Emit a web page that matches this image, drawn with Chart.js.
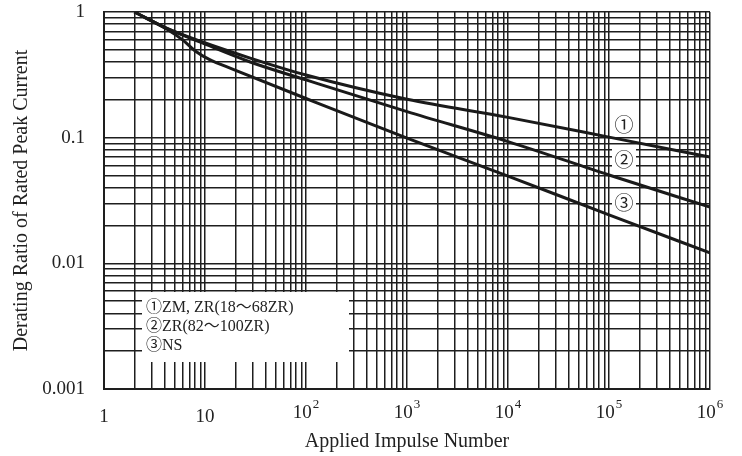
<!DOCTYPE html>
<html>
<head>
<meta charset="utf-8">
<script src="https://cdn.jsdelivr.net/npm/chart.js@4/dist/chart.umd.min.js"></script>
<style>
  html, body { margin: 0; padding: 0; background: #fff; }
  #wrap { width: 742px; height: 456px; }
</style>
</head>
<body>
<div id="wrap"><canvas id="chart" width="742" height="456"></canvas></div>
<script>
// impulse counts
const impulses = [2, 4.2, 9, 28, 100, 1e3, 1e4, 1e5, 1e6];
const zmRatio = [1, 0.74, 0.585, 0.43, 0.315, 0.202, 0.145, 0.101, 0.070];
const zrRatio = [1, 0.74, 0.575, 0.40, 0.288, 0.161, 0.093, 0.0505, 0.028];
const nsImpulses = [2, 4.2, 6, 8, 11, 19, 100, 1e3, 1e4, 1e5, 1e6];
const nsRatio = [1, 0.73, 0.6, 0.49, 0.42, 0.35, 0.205, 0.099, 0.0495, 0.0243, 0.0121];

const xDecades = [1, 10, 100, 1e3, 1e4, 1e5, 1e6];
const xTickLabels = [["1", ""], ["10", ""], ["10", "2"], ["10", "3"], ["10", "4"], ["10", "5"], ["10", "6"]];
const yDecades = [0.001, 0.01, 0.1, 1];
const yTickLabels = ["0.001", "0.01", "0.1", "1"];

const legendLines = ["①ZM, ZR(18〜68ZR)", "②ZR(82〜100ZR)", "③NS"];
const curveMarks = ["①", "②", "③"];

const SERIF = '"Liberation Serif", "Times New Roman", "Noto Sans CJK JP", serif';

function minorTicks(decades) {
  const out = [];
  for (let i = 0; i < decades.length - 1; i++) {
    for (let k = 1; k < 10; k++) out.push({ value: decades[i] * k });
  }
  out.push({ value: decades[decades.length - 1] });
  return out;
}

function toPoints(xs, ys) {
  return xs.map((x, i) => ({ x: x, y: ys[i] }));
}

const overlay = {
  id: "overlay",
  beforeDatasetsDraw(chart) {
    const ctx = chart.ctx;
    ctx.save();
    ctx.fillStyle = "#fff";
    // legend box covers the grid
    ctx.fillRect(142, 292, 207, 70);
    // white patches behind curve marks
    ctx.fillRect(612, 114, 24, 22);
    ctx.fillRect(612, 149, 24, 22);
    ctx.fillRect(612, 192, 24, 22);
    ctx.restore();
  },
  afterDraw(chart) {
    const ctx = chart.ctx;
    const xs = chart.scales.x;
    ctx.save();
    ctx.fillStyle = "#222";
    // x tick labels with superscripts
    xDecades.forEach((v, i) => {
      const px = xs.getPixelForValue(v);
      const base = xTickLabels[i][0], exp = xTickLabels[i][1];
      ctx.font = "19px " + SERIF;
      const bw = ctx.measureText(base).width;
      ctx.font = "13px " + SERIF;
      const ew = exp ? ctx.measureText(exp).width + 1 : 0;
      const left = px - (bw + ew) / 2;
      ctx.textAlign = "left";
      ctx.textBaseline = "alphabetic";
      ctx.font = "19px " + SERIF;
      ctx.fillText(base, left, exp ? 418 : 422);
      if (exp) {
        ctx.font = "13px " + SERIF;
        ctx.fillText(exp, left + bw + 1, 408);
      }
    });
    // legend text
    ctx.font = "16px " + SERIF;
    ctx.textAlign = "left";
    ctx.textBaseline = "middle";
    legendLines.forEach((t, i) => {
      ctx.fillText(t, 146, 308 + i * 19);
    });
    // curve marks
    ctx.font = "19px \"Noto Sans CJK JP\", " + SERIF;
    ctx.textAlign = "center";
    const markY = [125, 160, 203];
    curveMarks.forEach((m, i) => ctx.fillText(m, 624, markY[i]));
    ctx.restore();
  }
};

const lineStyle = {
  borderColor: "#1a1a1a",
  borderWidth: 3,
  pointRadius: 0,
  fill: false,
  cubicInterpolationMode: "monotone"
};

new Chart(document.getElementById("chart"), {
  type: "line",
  data: {
    datasets: [
      Object.assign({ label: "ZM, ZR(18〜68ZR)", data: toPoints(impulses, zmRatio) }, lineStyle),
      Object.assign({ label: "ZR(82〜100ZR)", data: toPoints(impulses, zrRatio) }, lineStyle),
      Object.assign({ label: "NS", data: toPoints(nsImpulses, nsRatio) }, lineStyle)
    ]
  },
  options: {
    responsive: false,
    devicePixelRatio: 1,
    animation: false,
    layout: { padding: { left: 6, right: 32, top: 12, bottom: 0 } },
    plugins: { legend: { display: false }, tooltip: { enabled: false } },
    scales: {
      x: {
        type: "logarithmic",
        min: 1,
        max: 1e6,
        afterBuildTicks: s => { s.ticks = minorTicks(xDecades); },
        afterFit: s => {
          s.height = 67;
          s.paddingLeft = 0; s.paddingRight = 0;
        },
        grid: { color: "#1e1e1e", lineWidth: 1.5, drawTicks: false },
        border: { color: "#1e1e1e", width: 2 },
        ticks: { display: false, autoSkip: false },
        title: {
          display: true,
          text: "Applied Impulse Number",
          color: "#222",
          font: { family: SERIF, size: 20 },
          padding: { top: 4, bottom: 2 }
        }
      },
      y: {
        type: "logarithmic",
        min: 0.001,
        max: 1,
        afterBuildTicks: s => { s.ticks = minorTicks(yDecades); },
        afterFit: s => {
          s.width = 98;
          s.paddingTop = 0; s.paddingBottom = 0;
        },
        grid: { color: "#1e1e1e", lineWidth: 1.5, drawTicks: false },
        border: { color: "#1e1e1e", width: 2 },
        ticks: {
          autoSkip: false,
          color: "#222",
          padding: 19,
          font: { family: SERIF, size: 19 },
          callback: v => {
            const i = yDecades.findIndex(d => Math.abs(d - v) < d * 1e-6);
            return i >= 0 ? yTickLabels[i] : "";
          }
        },
        title: {
          display: true,
          text: "Derating Ratio of Rated Peak Current",
          color: "#222",
          font: { family: SERIF, size: 20 },
          padding: { top: 4, bottom: 4 }
        }
      }
    }
  },
  plugins: [overlay]
});
</script>
</body>
</html>
